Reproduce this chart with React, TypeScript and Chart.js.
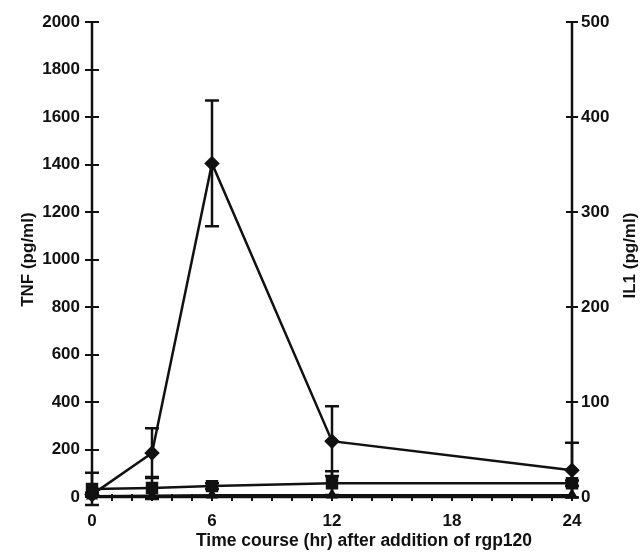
import React, { useEffect, useRef } from "react";
import { Chart, registerables } from "chart.js";

Chart.register(...registerables);

// Time points (hr)
const hours = [0, 3, 6, 12, 24];
// TNF (pg/ml), left axis — diamonds
const tnfValues = [10, 185, 1405, 235, 113];
const tnfErrors = [8, 105, 265, 147, 115];
// IL1 (pg/ml), right axis — squares
const il1Values = [8.5, 9.5, 11.5, 14.5, 14.5];
const il1Errors = [17, 11.5, 3, 12.5, 3];
// baseline series (triangles), right axis
const baseValues = [1, 1.5, 2, 2, 2];

const leftTickValues = [0, 200, 400, 600, 800, 1000, 1200, 1400, 1600, 1800, 2000];
const rightTickValues = [0, 100, 200, 300, 400, 500];
const xMajorTicks = [0, 6, 12, 18, 24];

const FONT_FAMILY = '"Liberation Sans", Arial, Helvetica, sans-serif';
const INK = "#111";

const errorsByDataset: (number[] | null)[] = [tnfErrors, il1Errors, null];
const valuesByDataset: number[][] = [tnfValues, il1Values, baseValues];

const customPlugin = {
  id: "customAxesAndErrors",
  beforeDatasetsDraw(chart: any) {
    const ctx = chart.ctx;
    const xs = chart.scales.x;
    const yl = chart.scales.y;
    const yr = chart.scales.y1;
    const left = xs.getPixelForValue(0);
    const right = xs.getPixelForValue(24);
    const top = yl.getPixelForValue(2000);
    const bottom = yl.getPixelForValue(0);
    ctx.save();
    ctx.strokeStyle = INK;
    ctx.lineCap = "butt";
    // axis lines
    ctx.lineWidth = 2.5;
    ctx.beginPath();
    ctx.moveTo(left, top);
    ctx.lineTo(left, bottom);
    ctx.moveTo(right, yr.getPixelForValue(500));
    ctx.lineTo(right, bottom);
    ctx.moveTo(left, bottom);
    ctx.lineTo(right, bottom);
    ctx.stroke();
    // ticks
    ctx.lineWidth = 2;
    ctx.beginPath();
    for (const v of leftTickValues) {
      const y = Math.round(yl.getPixelForValue(v));
      ctx.moveTo(left - 7, y);
      ctx.lineTo(left + 7, y);
    }
    for (const v of rightTickValues) {
      const y = Math.round(yr.getPixelForValue(v));
      ctx.moveTo(right - 6, y);
      ctx.lineTo(right + 6, y);
    }
    for (let h = 0; h <= 24; h++) {
      const x = Math.round(xs.getPixelForValue(h));
      ctx.moveTo(x, bottom - 3);
      ctx.lineTo(x, bottom + 4);
    }
    ctx.stroke();
    // error bars
    ctx.lineWidth = 2.5;
    chart.data.datasets.forEach((ds: any, i: number) => {
      const errs = errorsByDataset[i];
      if (!errs) return;
      const meta = chart.getDatasetMeta(i);
      const scale = chart.scales[ds.yAxisID];
      meta.data.forEach((pt: any, j: number) => {
        const v = valuesByDataset[i][j];
        const e = errs[j];
        const yTop = scale.getPixelForValue(v + e);
        const yBot = scale.getPixelForValue(v - e);
        const x = pt.x;
        ctx.beginPath();
        ctx.moveTo(x, yTop);
        ctx.lineTo(x, yBot);
        ctx.moveTo(x - 7, yTop);
        ctx.lineTo(x + 7, yTop);
        ctx.moveTo(x - 7, yBot);
        ctx.lineTo(x + 7, yBot);
        ctx.stroke();
      });
    });
    ctx.restore();
  },
  afterDraw(chart: any) {
    const ctx = chart.ctx;
    const ca = chart.chartArea;
    const midY = (ca.top + ca.bottom) / 2;
    ctx.save();
    ctx.fillStyle = INK;
    ctx.textAlign = "center";
    ctx.textBaseline = "middle";
    ctx.font = `bold 17px ${FONT_FAMILY}`;
    // left title
    ctx.save();
    ctx.translate(28, midY);
    ctx.rotate(-Math.PI / 2);
    ctx.fillText("TNF (pg/ml)", 0, 0);
    ctx.restore();
    // right title
    ctx.save();
    ctx.translate(630, midY - 4);
    ctx.rotate(-Math.PI / 2);
    ctx.fillText("IL1 (pg/ml)", 0, 0);
    ctx.restore();
    // x title
    ctx.font = `bold 17.5px ${FONT_FAMILY}`;
    ctx.fillText("Time course (hr) after addition of rgp120", 364, 541);
    ctx.restore();
  },
};

export default function App() {
  const canvasRef = useRef<HTMLCanvasElement | null>(null);

  useEffect(() => {
    if (!canvasRef.current) return;
    const tickFont = { family: FONT_FAMILY, size: 17, weight: "bold" as const };
    const plainLabel = (v: any) => String(v);
    const chart = new Chart(canvasRef.current, {
      type: "line",
      data: {
        datasets: [
          {
            label: "TNF",
            data: hours.map((h, i) => ({ x: h, y: tnfValues[i] })),
            yAxisID: "y",
            borderColor: INK,
            backgroundColor: INK,
            borderWidth: 2.5,
            pointStyle: "rectRot",
            pointRadius: 6,
            pointBackgroundColor: INK,
            pointBorderColor: INK,
            clip: false as any,
          },
          {
            label: "IL1",
            data: hours.map((h, i) => ({ x: h, y: il1Values[i] })),
            yAxisID: "y1",
            borderColor: INK,
            backgroundColor: INK,
            borderWidth: 2.5,
            pointStyle: "rect",
            pointRadius: 7,
            pointBackgroundColor: INK,
            pointBorderColor: INK,
            clip: false as any,
          },
          {
            label: "baseline",
            data: hours.map((h, i) => ({ x: h, y: baseValues[i] })),
            yAxisID: "y1",
            borderColor: INK,
            backgroundColor: INK,
            borderWidth: 2,
            pointStyle: "triangle",
            pointRadius: 5,
            pointBackgroundColor: INK,
            pointBorderColor: INK,
            clip: false as any,
          },
        ],
      },
      options: {
        animation: false,
        responsive: false,
        maintainAspectRatio: false,
        layout: { padding: { top: 21, left: 0, right: 0, bottom: 0 } },
        plugins: { legend: { display: false }, tooltip: { enabled: false } },
        scales: {
          x: {
            type: "linear",
            min: 0,
            max: 24,
            afterBuildTicks: (s: any) => {
              s.ticks = xMajorTicks.map((v) => ({ value: v }));
            },
            ticks: { font: tickFont, color: INK, padding: 14, maxRotation: 0, callback: plainLabel },
            grid: { display: false, drawTicks: false },
            border: { display: false },
            afterFit: (s: any) => {
              s.height = 55;
            },
          },
          y: {
            type: "linear",
            position: "left",
            min: 0,
            max: 2000,
            afterBuildTicks: (s: any) => {
              s.ticks = leftTickValues.map((v) => ({ value: v }));
            },
            ticks: { font: tickFont, color: INK, padding: 12, callback: plainLabel },
            grid: { display: false, drawTicks: false },
            border: { display: false },
            afterFit: (s: any) => {
              s.width = 92;
            },
          },
          y1: {
            type: "linear",
            position: "right",
            min: 0,
            max: 500,
            afterBuildTicks: (s: any) => {
              s.ticks = rightTickValues.map((v) => ({ value: v }));
            },
            ticks: { font: tickFont, color: INK, padding: 9, callback: plainLabel },
            grid: { display: false, drawTicks: false },
            border: { display: false },
            afterFit: (s: any) => {
              s.width = 68;
            },
          },
        },
      },
      plugins: [customPlugin],
    });
    return () => chart.destroy();
  }, []);

  return (
    <div style={{ position: "fixed", left: 0, top: 0, width: 640, height: 552, background: "#fff" }}>
      <canvas ref={canvasRef} width={640} height={552} style={{ width: 640, height: 552 }} />
    </div>
  );
}
